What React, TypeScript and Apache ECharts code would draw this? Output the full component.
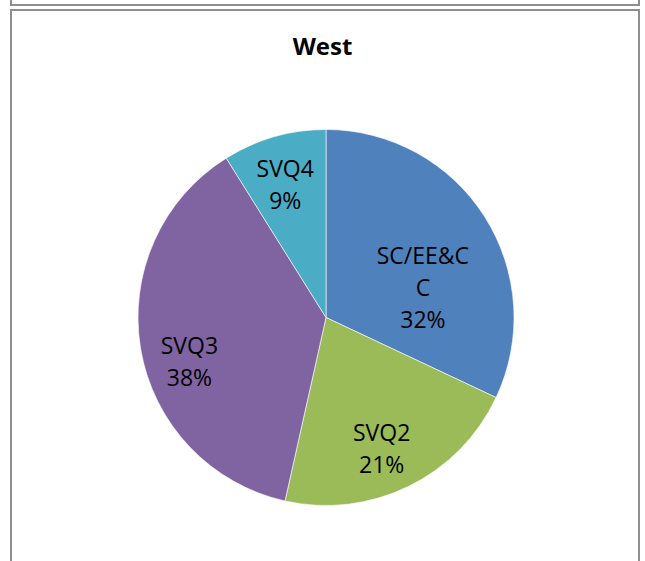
import React, { useEffect, useRef } from "react";
import * as echarts from "echarts";

const categories = ["SC/EE&CC", "SVQ2", "SVQ3", "SVQ4"];
const values = [32.0, 21.5, 37.6, 8.9];
const colors = ["#4F81BD", "#9BBB59", "#8064A2", "#4BACC6"];
const labelOffsets = [
  [15, 21],
  [13, 43],
  [-41, 27],
  [-14, -40],
];
const titleText = "West";

export default function App() {
  const ref = useRef<HTMLDivElement>(null);
  useEffect(() => {
    if (!ref.current) return;
    const chart = echarts.init(ref.current, null, { renderer: "svg" });
    const font = "'Open Sans', 'Liberation Sans', Arial, sans-serif";
    chart.setOption({
      animation: false,
      backgroundColor: "#ffffff",
      title: {
        text: titleText,
        left: "center",
        top: 28,
        textStyle: { fontFamily: font, fontSize: 24, fontWeight: "bold", color: "#000" },
      },
      graphic: [
        {
          type: "rect",
          shape: { x: 11, y: -30, width: 628, height: 35 },
          style: { fill: "none", stroke: "#8e8e8e", lineWidth: 2 },
        },
        {
          type: "rect",
          shape: { x: 11, y: 10, width: 628, height: 600 },
          style: { fill: "none", stroke: "#8e8e8e", lineWidth: 2 },
        },
      ],
      series: [
        {
          type: "pie",
          center: [326, 317.5],
          radius: 188,
          startAngle: 90,
          clockwise: true,
          percentPrecision: 0,
          avoidLabelOverlap: false,
          itemStyle: { borderColor: "#ffffff", borderWidth: 0.6 },
          label: {
            show: true,
            position: "inside",
            formatter: "{b}\n{d}%",
            fontFamily: font,
            fontSize: 23,
            lineHeight: 32,
            color: "#000",
            width: 100,
            overflow: "breakAll",
          },
          labelLine: { show: false },
          data: categories.map((name, i) => ({
            name,
            value: values[i],
            itemStyle: { color: colors[i] },
            label: { offset: labelOffsets[i] },
          })),
        },
      ],
    });
    return () => chart.dispose();
  }, []);
  return (
    <div
      ref={ref}
      style={{ position: "fixed", left: 0, top: 0, width: 645, height: 561 }}
    />
  );
}
